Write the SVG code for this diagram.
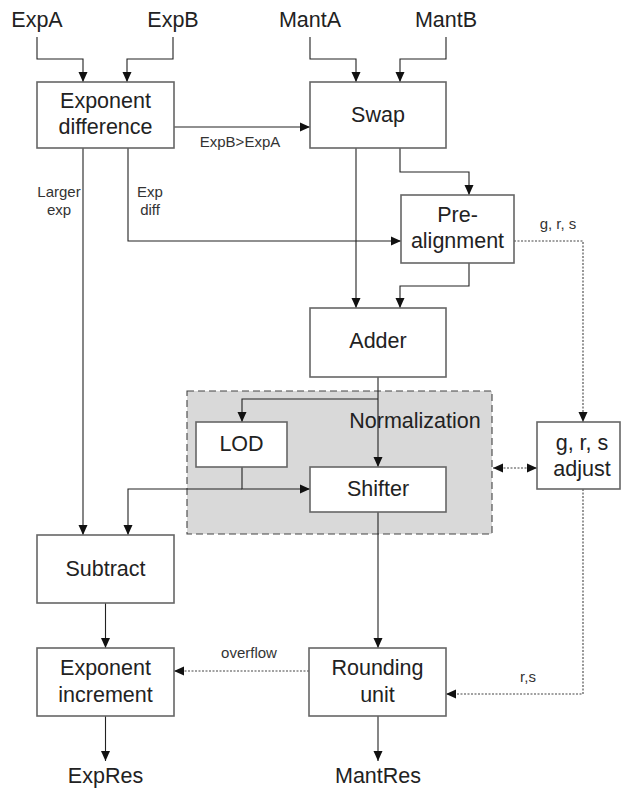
<svg xmlns="http://www.w3.org/2000/svg" width="621" height="788" viewBox="0 0 621 788">
<style>
text{font-family:"Liberation Sans",Arial,sans-serif;fill:#222}
.big{font-size:21.5px;text-anchor:middle}
.sm{font-size:15px;text-anchor:middle;fill:#333}
.box{fill:#fff;stroke:#666;stroke-width:1.6}
.ln{fill:none;stroke:#222;stroke-width:1.1}
.dot{fill:none;stroke:#444;stroke-width:1.1;stroke-dasharray:2,1.5}
</style>
<defs>
<marker id="ah" viewBox="0 0 10 10" refX="10" refY="5" markerWidth="10" markerHeight="10" markerUnits="userSpaceOnUse" orient="auto-start-reverse">
<path d="M0,0.5 L10,5 L0,9.5 z" fill="#111"/>
</marker>
</defs>
<rect x="0" y="0" width="621" height="788" fill="#fff"/>

<g id="normalization">
<rect x="187" y="391" width="305" height="143" fill="#d9d9d9" stroke="#444" stroke-width="1.1" stroke-dasharray="7,4"/>
<text class="big" x="415" y="428">Normalization</text>
</g>

<g id="inputs">
<text class="big" x="37" y="27">ExpA</text>
<text class="big" x="173" y="27">ExpB</text>
<text class="big" x="310" y="27">MantA</text>
<text class="big" x="446" y="27">MantB</text>
</g>

<g id="connectors">
<path class="ln" d="M37,37 V59 H83 V82" marker-end="url(#ah)"/>
<path class="ln" d="M173,37 V59 H127 V82" marker-end="url(#ah)"/>
<path class="ln" d="M310,37 V59 H356 V82" marker-end="url(#ah)"/>
<path class="ln" d="M446,37 V59 H400 V82" marker-end="url(#ah)"/>
<path class="ln" d="M173,127 H310" marker-end="url(#ah)"/>
<path class="ln" d="M83,148 V535" marker-end="url(#ah)"/>
<path class="ln" d="M128,148 V241 H401" marker-end="url(#ah)"/>
<path class="ln" d="M356,148 V308" marker-end="url(#ah)"/>
<path class="ln" d="M400,148 V172 H469 V195" marker-end="url(#ah)"/>
<path class="ln" d="M469,263 V286 H400 V308" marker-end="url(#ah)"/>
<path class="ln" d="M378,377 V467" marker-end="url(#ah)"/>
<path class="ln" d="M378,399 H242 V422" marker-end="url(#ah)"/>
<path class="ln" d="M242,467 V489 H310" marker-end="url(#ah)"/>
<path class="ln" d="M242,489 H128 V535" marker-end="url(#ah)"/>
<path class="ln" d="M378,512 V648" marker-end="url(#ah)"/>
<path class="ln" d="M105.5,603 V648" marker-end="url(#ah)"/>
<path class="ln" d="M105.5,716 V761" marker-end="url(#ah)"/>
<path class="ln" d="M378,716 V761" marker-end="url(#ah)"/>
<path class="dot" d="M514,241 H583 V422" marker-end="url(#ah)"/>
<path class="dot" d="M493,468 H537" marker-start="url(#ah)" marker-end="url(#ah)"/>
<path class="dot" d="M583,489 V694 H446" marker-end="url(#ah)"/>
<path class="dot" d="M309,671 H174" marker-end="url(#ah)"/>
<text class="sm" x="240" y="147">ExpB&gt;ExpA</text>
<text class="sm" x="59" y="197">Larger</text>
<text class="sm" x="59" y="215">exp</text>
<text class="sm" x="150" y="197">Exp</text>
<text class="sm" x="150" y="215">diff</text>
<text class="sm" x="558" y="229">g, r, s</text>
<text class="sm" x="528" y="682">r,s</text>
<text class="sm" x="249" y="658">overflow</text>
</g>

<g id="expdiff"><rect class="box" x="37" y="82" width="137" height="66"/><text class="big" x="105.5" y="108">Exponent</text><text class="big" x="105.5" y="134">difference</text></g>
<g id="swap"><rect class="box" x="310" y="82" width="136" height="66"/><text class="big" x="378" y="122">Swap</text></g>
<g id="prealign"><rect class="box" x="401" y="195" width="113" height="68"/><text class="big" x="457.5" y="222">Pre-</text><text class="big" x="457.5" y="248">alignment</text></g>
<g id="adder"><rect class="box" x="310" y="308" width="136" height="69"/><text class="big" x="378" y="348">Adder</text></g>
<g id="lod"><rect class="box" x="196" y="422" width="91" height="45"/><text class="big" x="241.5" y="451">LOD</text></g>
<g id="shifter"><rect class="box" x="310" y="467" width="136" height="45"/><text class="big" x="378" y="496">Shifter</text></g>
<g id="grsadjust"><rect class="box" x="537" y="422" width="83" height="67"/><text class="big" x="582" y="450">g, r, s</text><text class="big" x="582" y="476">adjust</text></g>
<g id="subtract"><rect class="box" x="37" y="535" width="137" height="68"/><text class="big" x="105.5" y="576">Subtract</text></g>
<g id="expinc"><rect class="box" x="37" y="648" width="137" height="68"/><text class="big" x="105.5" y="675">Exponent</text><text class="big" x="105.5" y="702">increment</text></g>
<g id="rounding"><rect class="box" x="309" y="648" width="137" height="68"/><text class="big" x="377.5" y="675">Rounding</text><text class="big" x="377.5" y="702">unit</text></g>
<g id="outputs">
<text class="big" x="105.5" y="783">ExpRes</text>
<text class="big" x="378" y="783">MantRes</text>
</g>
</svg>
